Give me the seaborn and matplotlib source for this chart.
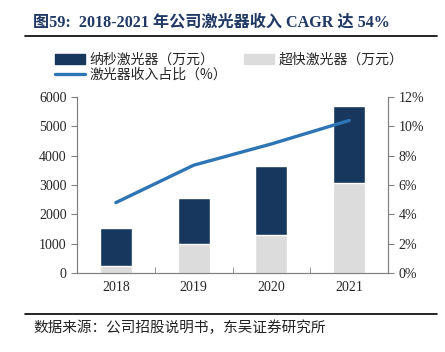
import numpy as np
import matplotlib
matplotlib.use('Agg')
import matplotlib.pyplot as plt
import seaborn as sns
from matplotlib.patches import Patch
from matplotlib.lines import Line2D
from matplotlib.ticker import FixedLocator

years = ['2018', '2019', '2020', '2021']
ultrafast = [250, 1000, 1300, 3060]     # 超快激光器（万元）
nano = [1300, 1570, 2350, 2640]         # 纳秒激光器（万元）
share = [4.8, 7.35, 8.8, 10.4]          # 激光器收入占比（%）

navy = '#17375E'
grey = '#DCDCDC'
blue = '#2E75B6'

sns.set_style('white')
plt.rcParams['font.family'] = ['Liberation Serif', 'Noto Sans CJK SC', 'DejaVu Sans']
cjk = ['Noto Sans CJK SC', 'DejaVu Sans']

fig = plt.figure(figsize=(4.45, 3.52), dpi=100)
ax = fig.add_axes([0.173, 0.2244, 0.699, 0.5])

totals = [u + n for u, n in zip(ultrafast, nano)]
sns.barplot(x=years, y=totals, color=navy, width=0.41, saturation=1, ax=ax)
sns.barplot(x=years, y=ultrafast, color=grey, width=0.41, saturation=1, ax=ax)

ax.set_xlim(-0.5, 3.5)
ax.set_ylim(0, 6000)
ax.set_yticks(range(0, 6001, 1000))
ax.set_xlabel('')
ax.set_ylabel('')
ax.xaxis.set_minor_locator(FixedLocator([0.5, 1.5, 2.5]))
ax.tick_params(axis='x', which='major', length=0, labelsize=10, pad=6)
ax.tick_params(axis='x', which='minor', length=4, direction='in', color='#808080', bottom=True)
ax.tick_params(axis='y', length=4, direction='out', color='#808080', labelsize=10, left=True)

ax2 = ax.twinx()
sns.lineplot(x=np.arange(len(years)), y=share, color=blue, linewidth=2.4, ax=ax2)
ax2.set_ylim(0, 12)
ax2.set_yticks(range(0, 13, 2))
ax2.set_yticklabels([f'{v}%' for v in range(0, 13, 2)])
ax2.tick_params(axis='y', length=4, direction='out', color='#808080', labelsize=10, right=True)
ax2.set_xlim(-0.5, 3.5)

for a in (ax, ax2):
    for s in a.spines.values():
        s.set_color('#808080')
        s.set_linewidth(0.8)
    a.spines['top'].set_visible(False)

handles = [Patch(color=navy), Line2D([], [], color=blue, linewidth=2.4), Patch(color=grey)]
labels = ['纳秒激光器（万元）', '激光器收入占比（%）', '超快激光器（万元）']
fig.legend(handles, labels, ncol=2, loc='upper left', bbox_to_anchor=(0.095, 0.885),
           frameon=False, prop={'family': cjk, 'size': 10}, handlelength=2.2,
           handletextpad=0.3, columnspacing=1.2, labelspacing=0.05)

fig.text(0.075, 0.935, '图59:  2018-2021 年公司激光器收入 CAGR 达 54%', fontsize=11.6,
         fontweight='bold', color='#1F3864', va='center')
fig.add_artist(Line2D([0.056, 0.982], [0.898, 0.898], color='black', linewidth=1.2))
fig.add_artist(Line2D([0.056, 0.982], [0.108, 0.108], color='black', linewidth=1.2))
fig.text(0.075, 0.068, '数据来源：公司招股说明书，东吴证券研究所', fontsize=10.5,
         family=cjk, color='#222222', va='center')

fig.savefig('out.png', dpi=100)
